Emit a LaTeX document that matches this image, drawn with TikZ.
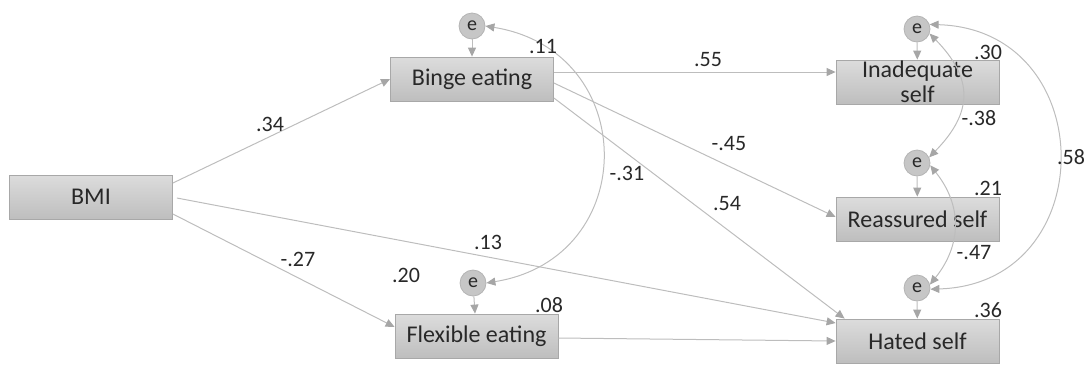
\documentclass[tikz,border=0pt]{standalone}
\usepackage{fontspec}
\setmainfont{Carlito}
\usetikzlibrary{arrows.meta}
\definecolor{boxtop}{HTML}{DCDCDC}
\definecolor{boxbot}{HTML}{BEBEBE}
\definecolor{boxline}{HTML}{A8A8A8}
\definecolor{errfill}{HTML}{C6C6C6}
\definecolor{errline}{HTML}{B4B4B4}
\definecolor{wire}{HTML}{BDBDBD}
\definecolor{tipgray}{HTML}{A6A6A6}
\definecolor{txt}{HTML}{282828}

\begin{document}
\begin{tikzpicture}[x=0.5pt,y=-0.5pt,
    box/.style={draw=boxline,top color=boxtop,bottom color=boxbot,minimum width=81.5pt,minimum height=22pt,inner sep=0pt,text=txt,align=center,font=\fontsize{12}{12.5}\selectfont},
    err/.style={circle,draw=errline,fill=errfill,minimum size=13pt,inner sep=0pt,text=txt,font=\fontsize{10}{10}\selectfont},
    link/.style={draw=wire,line width=0.5pt,-{Triangle[length=4.5pt,width=4pt,color=tipgray]}},
    cov/.style={draw=wire,line width=0.5pt,{Triangle[length=4.5pt,width=4pt,color=tipgray]}-{Triangle[length=4.5pt,width=4pt,color=tipgray]}},
    lab/.style={text=txt,inner sep=0pt,font=\fontsize{11}{11}\selectfont}]
                \useasboundingbox (0,0) rectangle (1090,365);
                \node[box] (bmi) at (91,197) {BMI};
                \node[box] (binge) at (472,79) {Binge eating};
                \node[box] (flex) at (476.5,336) {Flexible eating};
                \node[err] (ebinge) at (472,26) {e};
                \node[err] (eflex) at (473,283) {e};
                \draw[link] (ebinge) -- (binge);
                \draw[link] (eflex) -- (flex);
                \foreach \name/\y/\ey/\txt in {inad/82/29/{Inadequate\\self},reas/219/163/{Reassured self},hate/341/288/{Hated self}}{
                    \node[box] (\name) at (917.5,\y) {\txt};
                    \node[err] (e\name) at (917,\ey) {e};
                    \draw[link] (e\name) -- (\name);
                }
                \draw[link] ([yshift=7pt]bmi.east) -- (binge.west);
                \draw[link] ([xshift=2pt,yshift=-0.5pt]bmi.east) -- ([yshift=9pt]hate.west);
                \draw[link] ([yshift=-8.5pt]bmi.east) -- ([yshift=4.5pt]flex.west);
                \draw[link] ([yshift=3.5pt]binge.east) -- ([yshift=5pt]inad.west);
                \draw[link] ([yshift=-2pt]binge.east) -- ([yshift=1pt]reas.west);
                \draw[link] ([yshift=-9.5pt]binge.east) -- ([xshift=4.5pt]hate.north west);
                \draw[link] ([yshift=-1pt]flex.east) -- (hate.west);
                \draw[cov] (ebinge.east) .. controls +(155,25) and +(155,-25) .. (eflex.east);
                \draw[cov] (einad.-20) .. controls +(44,45) and +(44,-45) .. (ereas.25);
                \draw[cov] (ereas.-10) .. controls +(32,40) and +(32,-40) .. (ehate.15);
                \draw[cov] (einad.20) .. controls +(172,5) and +(172,-5) .. (ehate.-5);
                \foreach \x/\y/\v [count=\i] in {270/124/.34,488/242/.13,298/259/-.27,406/275/.20,543/47/.11,549/305/.08,708/60/.55,729/144/-.45,627/173/-.31,727/204/.54,988/52/.30,979/118/-.38,988/188/.21,974/253/-.47,988/310/.36,1071/157/.58}{
                    \node[lab] (lab\i) at (\x,\y) {\v};
                }
            \end{tikzpicture}
\end{document}
